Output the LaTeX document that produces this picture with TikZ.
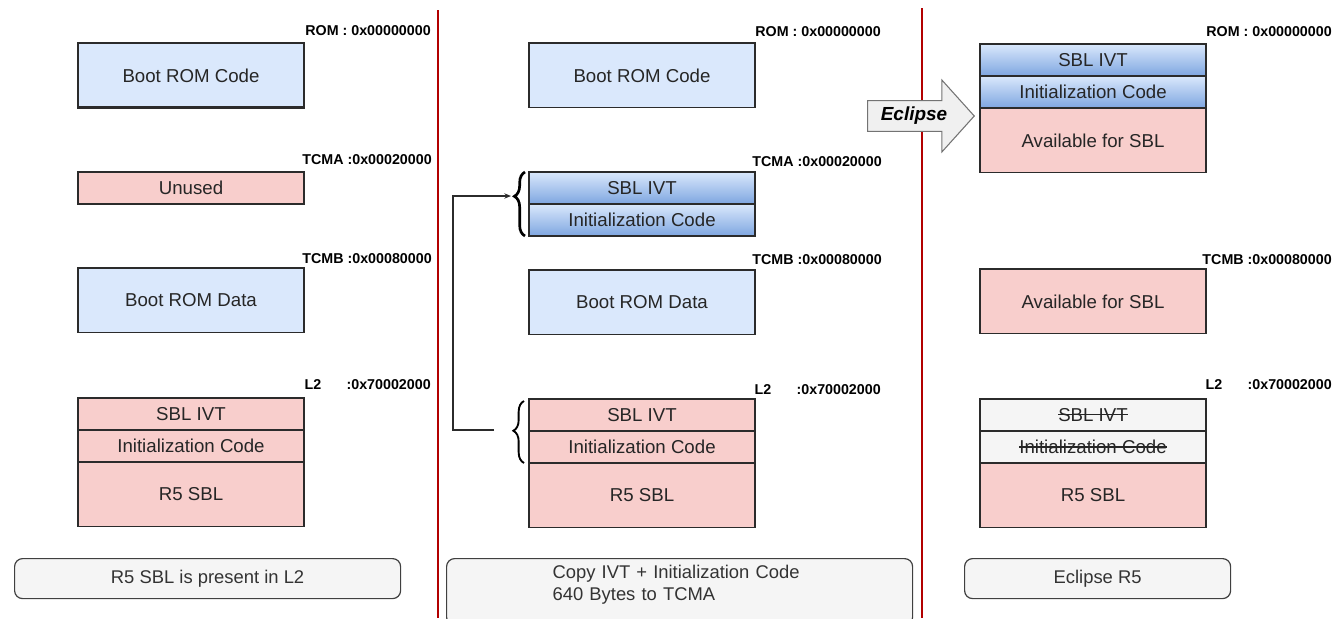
\documentclass[tikz,border=0pt]{standalone}
\usepackage{fontspec}
\setmainfont{Liberation Sans}
\usepackage{xcolor}
\usetikzlibrary{positioning, arrows.meta, calc, shapes.arrows, decorations.pathreplacing}
\definecolor{romblue}{HTML}{DAE8FC}
\definecolor{sblpink}{HTML}{F8CECC}
\definecolor{ivtblue}{HTML}{7EA6E0}
\definecolor{notegray}{HTML}{F5F5F5}
\definecolor{splitred}{HTML}{B20000}
\definecolor{inkgray}{HTML}{2B2B2B}
\newsavebox\strikebox
\newcommand\struck[1]{\sbox\strikebox{#1}\rlap{\usebox\strikebox}\rule[0.33em]{\wd\strikebox}{0.07em}}
\tikzset{
  memblock/.style={
    rectangle,
    draw=inkgray,
    line width=1pt,
    minimum width=169.5pt,
    minimum height=24pt,
    inner sep=0pt,
    outer sep=0pt,
    text=black!85,
    font=\fontsize{14}{16}\selectfont
  },
  tallblock/.style={
    memblock,
    minimum height=48.5pt
  },
  romfill/.style={fill=romblue},
  sblfill/.style={fill=sblpink},
  ivtfill/.style={top color=romblue, bottom color=ivtblue},
  stalefill/.style={fill=notegray},
  addrlabel/.style={
    anchor=base east,
    inner sep=0pt,
    font=\fontsize{10.7}{12}\selectfont\bfseries
  },
  notebox/.style={
    rectangle,
    draw=black!75,
    line width=0.9pt,
    rounded corners=6pt,
    fill=notegray,
    anchor=north west,
    text=black!80,
    font=\fontsize{13.8}{16.5}\selectfont
  },
  splitline/.style={
    draw=splitred,
    line width=2pt
  },
  copyarrow/.style={
    -{Stealth[length=5pt, width=4pt]},
    line width=0.9pt,
    draw=inkgray
  },
  bracemark/.style={
    decorate,
    decoration={brace, amplitude=8pt},
    draw=black,
    line width=1.4pt
  },
  eclipsearrow/.style={
    single arrow,
    draw=black!55,
    line width=0.8pt,
    fill=gray!12,
    minimum height=80pt,
    minimum width=54pt,
    single arrow head extend=15.5pt,
    single arrow tip angle=96,
    inner xsep=2pt,
    inner ysep=4.5pt,
    font=\fontsize{14.2}{16}\selectfont\bfseries\itshape
  }
}

\begin{document}
\begin{tikzpicture}[x=0.75pt, y=-0.75pt]
  \clip (0,0) rectangle (1334,618);

  % separators
  \draw[splitline] (438,10) -- (438,618);
  \draw[splitline] (922,8) -- (922,618);

  % left: SBL in L2
  \node[tallblock, romfill, line width=2.2pt, anchor=north west] (bootcodeL) at (78,43) {Boot ROM Code};
  \node[memblock, sblfill, anchor=north west] (unusedL) at (78,172) {Unused};
  \node[tallblock, romfill, anchor=north west] (bootdataL) at (78,268) {Boot ROM Data};
  \node[memblock, sblfill, anchor=north west] (ivtL) at (78,398) {SBL IVT};
  \node[memblock, sblfill, below=0pt of ivtL] (initL) {Initialization Code};
  \node[tallblock, sblfill, below=0pt of initL] (sblL) {R5 SBL};

  \node[addrlabel] (romL) at (431,35) {ROM : 0x00000000};
  \node[addrlabel] (tcmaL) at (432,164) {TCMA :0x00020000};
  \node[addrlabel] (tcmbL) at (432,263) {TCMB :0x00080000};
  \node[addrlabel] (l2L) at (431,389) {L2\hspace{19pt}:0x70002000};

  \node[notebox, minimum width=289.5pt, minimum height=30pt] (noteL) at (14,558) {R5 SBL is present in L2};

  % middle: copy to TCMA
  \node[tallblock, romfill, anchor=north west] (bootcodeM) at (529,43) {Boot ROM Code};
  \node[memblock, ivtfill, anchor=north west] (ivtM) at (529,172) {SBL IVT};
  \node[memblock, ivtfill, below=0pt of ivtM] (initM) {Initialization Code};
  \node[tallblock, romfill, anchor=north west] (bootdataM) at (529,270) {Boot ROM Data};
  \node[memblock, sblfill, anchor=north west] (ivtML) at (529,399) {SBL IVT};
  \node[memblock, sblfill, below=0pt of ivtML] (initML) {Initialization Code};
  \node[tallblock, sblfill, below=0pt of initML] (sblM) {R5 SBL};

  \node[addrlabel] (romM) at (881,36) {ROM : 0x00000000};
  \node[addrlabel] (tcmaM) at (882,166) {TCMA :0x00020000};
  \node[addrlabel] (tcmbM) at (882,264) {TCMB :0x00080000};
  \node[addrlabel] (l2M) at (881,394) {L2\hspace{19pt}:0x70002000};

  \draw[bracemark, line width=2pt, decoration={aspect=0.62}]
    ($(initM.south west)+(-4,0)$) -- ($(ivtM.north west)+(-4,0)$);
  \draw[bracemark, decoration={aspect=0.52}]
    ($(initML.south west)+(-5,0)$) -- ($(ivtML.north west)+(-5,2)$);

  \coordinate (copyFrom) at ($(initML.north west)+(-35,-1)$);
  \coordinate (copyTo) at ($(ivtM.south west)+(-18,-8)$);
  \draw[copyarrow] (copyFrom) -- ++(-41,0) |- (copyTo);

  \node[notebox, minimum width=349.5pt, text width=190.5pt, align=left,
        inner ysep=5pt, text depth=30pt] (noteM) at (446,558)
    {Copy IVT + Initialization Code\\640 Bytes to TCMA};

  % right: eclipse
  \node[memblock, ivtfill, anchor=north west] (ivtR) at (980,44) {SBL IVT};
  \node[memblock, ivtfill, below=0pt of ivtR] (initR) {Initialization Code};
  \node[tallblock, sblfill, below=0pt of initR] (availR) {Available for SBL};
  \node[tallblock, sblfill, anchor=north west] (availTR) at (980,269) {Available for SBL};
  \node[memblock, stalefill, anchor=north west] (ivtRL) at (980,399) {\struck{SBL IVT}};
  \node[memblock, stalefill, below=0pt of ivtRL] (initRL) {\struck{Initialization Code}};
  \node[tallblock, sblfill, below=0pt of initRL] (sblR) {R5 SBL};

  \node[addrlabel] (romR) at (1332,36) {ROM : 0x00000000};
  \node[addrlabel] (tcmbR) at (1332,264) {TCMB :0x00080000};
  \node[addrlabel] (l2R) at (1332,389) {L2\hspace{19pt}:0x70002000};

  \node[eclipsearrow] (eclipse) at (914,116) {Eclipse};

  \node[notebox, minimum width=199.5pt, minimum height=30pt] (noteR) at (964,558) {Eclipse R5};
\end{tikzpicture}
\end{document}
